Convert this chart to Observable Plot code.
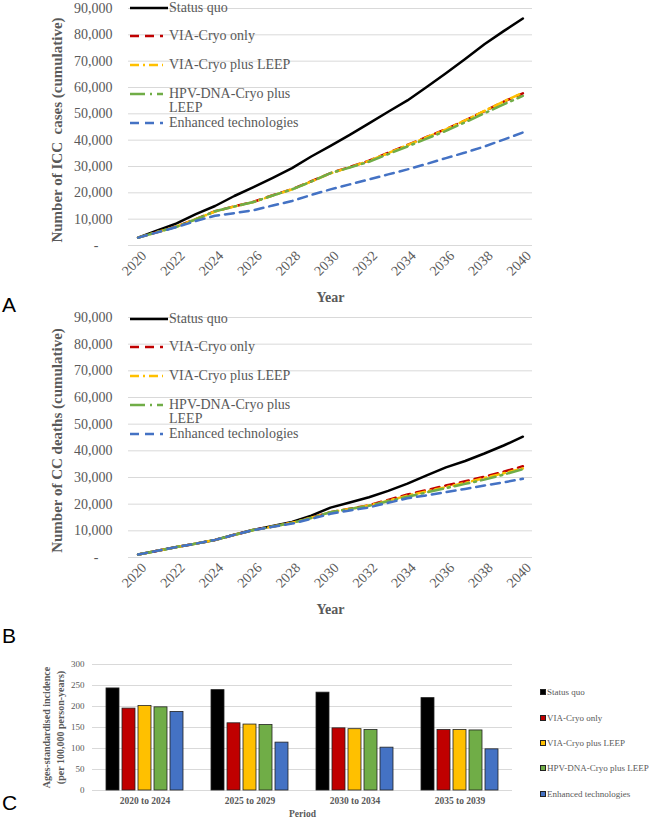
<!DOCTYPE html>
<html><head><meta charset="utf-8">
<script src="https://cdn.jsdelivr.net/npm/d3@7"></script>
<script src="https://cdn.jsdelivr.net/npm/@observablehq/plot@0.6"></script>
<style>
body{margin:0;background:#fff;}
#wrap{position:relative;width:652px;height:820px;overflow:hidden;font-family:"Liberation Serif",serif;color:#595959;background:#fff;}
.panel{position:absolute;left:0;}
.letter{position:absolute;left:2px;font-family:"Liberation Sans","Noto Sans",sans-serif;font-size:21px;line-height:21px;color:#000;}
.leg{position:absolute;font-family:"Liberation Serif",serif;font-size:14px;line-height:14px;white-space:nowrap;color:#595959;}
.legc{position:absolute;font-family:"Liberation Serif",serif;font-size:9px;line-height:10px;white-space:nowrap;color:#595959;}
.sw{position:absolute;width:6px;height:6px;box-sizing:border-box;border:1px solid #222;}
</style></head><body><div id="wrap"></div>
<script>
// ---------- data ----------
const years = [2020,2021,2022,2023,2024,2025,2026,2027,2028,2029,2030,2031,2032,2033,2034,2035,2036,2037,2038,2039,2040];
const yearTicks = [2020,2022,2024,2026,2028,2030,2032,2034,2036,2038,2040];
const countTicks = [0,10000,20000,30000,40000,50000,60000,70000,80000,90000];

const scenarios = ["Status quo","VIA-Cryo only","VIA-Cryo plus LEEP","HPV-DNA-Cryo plus LEEP","Enhanced technologies"];
const scenarioColors = ["#000000","#C00000","#FFC000","#70AD47","#4472C4"];
const scenarioDash = [null,"9,6","9,4,2,4","15,5,2,5","9,6"];
const legendLabelsLine = ["Status quo","VIA-Cryo only","VIA-Cryo plus LEEP","HPV-DNA-Cryo plus\nLEEP","Enhanced technologies"];

// Panel A: cumulative ICC cases
const casesStatusQuo = [3000,5700,8400,11900,15000,18800,22200,25700,29400,33800,37800,42000,46400,50800,55100,60200,65400,70800,76400,81400,86200];
const casesViaCryo   = [3000,5100,7200,10000,13000,14900,16600,19100,21400,24400,27500,29800,32200,35200,38200,41200,44200,47500,51000,54600,57800];
const casesViaLeep   = [3000,5100,7200,10000,12900,14800,16500,19000,21300,24300,27400,29700,32100,35100,38100,41100,44100,47500,51100,54700,58000];
const casesHpv       = [3000,5100,7100,9900,13000,14800,16500,19000,21300,24300,27500,29600,31800,34700,37600,40600,43500,46800,50200,53600,56800];
const casesEnhanced  = [3000,5000,7000,9300,11300,12300,13400,15200,16900,19200,21300,23200,25100,27000,28900,31000,33200,35300,37600,40200,42900];

// Panel B: cumulative CC deaths
const deathsStatusQuo = [1100,2500,3900,5200,6600,8500,10400,11800,13300,15700,18700,20600,22600,25000,27700,30800,33800,36200,39000,42000,45300];
const deathsViaCryo   = [1100,2500,3900,5200,6600,8500,10300,11600,13000,14900,17000,18300,19600,21600,23600,25300,27000,28600,30300,32200,34200];
const deathsViaLeep   = [1100,2500,3900,5200,6600,8500,10300,11600,13000,14900,17000,18200,19500,21300,23200,24800,26400,28000,29800,31600,33400];
const deathsHpv       = [1100,2500,3900,5200,6600,8500,10300,11600,13000,14800,17000,18200,19400,21100,22800,24400,26000,27600,29200,31100,33100];
const deathsEnhanced  = [1100,2500,3900,5200,6600,8500,10300,11500,12700,14500,16400,17600,18800,20500,22200,23300,24500,25700,27000,28200,29500];

// Panel C: age-standardised incidence
const periods = ["2020 to 2024","2025 to 2029","2030 to 2034","2035 to 2039"];
const incStatusQuo = [243,239,233,220];
const incViaCryo   = [195,160,148,144];
const incViaLeep   = [201,157,146,144];
const incHpv       = [198,156,144,143];
const incEnhanced  = [187,114,102,98];
const incTicks = [0,50,100,150,200,250,300];

// ---------- helpers ----------
const wrap = document.getElementById("wrap");
const grey = "#595959";
const fmtCount = d => d === 0 ? "-\u2007\u2007" : d3.format(",")(d);

function linePanel(seriesList, yLabel, h){
  const lineMarks = seriesList.map((vals, i) => Plot.line(years, {
    x: years, y: vals, stroke: scenarioColors[i], strokeWidth: 2.5,
    strokeDasharray: scenarioDash[i] || undefined, strokeLinejoin: "round"
  }));
  return Plot.plot({
    width: 545, height: h,
    marginTop: 8, marginRight: 13, marginBottom: 55, marginLeft: 128,
    style: {fontFamily: "'Liberation Serif', serif", fontSize: "14px", color: grey, background: "transparent", overflow: "visible"},
    x: {domain: [2019.5, 2040.5]},
    y: {domain: [0, 90000]},
    marks: [
      Plot.gridY(countTicks, {stroke: "#d9d9d9", strokeOpacity: 1, strokeWidth: 1}),
      Plot.axisY(countTicks, {tickSize: 0, tickPadding: 16, tickFormat: fmtCount, label: null, fontSize: 14}),
      Plot.axisX(yearTicks, {tickSize: 0, tickPadding: 8, tickRotate: -45, dx: 6, tickFormat: d => String(d), label: null, fontSize: 14}),
      ...lineMarks,
      Plot.text([yLabel], {frameAnchor: "left", textAnchor: "middle", lineAnchor: "middle", dx: -71, dy: 3, rotate: -90, fontWeight: "bold", fontSize: 15, fill: grey}),
      Plot.text(["Year"], {frameAnchor: "bottom", lineAnchor: "middle", dy: 52, fontWeight: "bold", fontSize: 14, fill: grey})
    ]
  });
}

function addLineLegend(offsetTop){
  const centers = [8, 36, 65, 94, 123];
  legendLabelsLine.forEach((lab, i) => {
    const c = centers[i] + offsetTop;
    const svgNS = "http://www.w3.org/2000/svg";
    const s = document.createElementNS(svgNS, "svg");
    s.setAttribute("width", 38); s.setAttribute("height", 6);
    s.style.position = "absolute"; s.style.left = "130px"; s.style.top = (c - 3) + "px";
    const l = document.createElementNS(svgNS, "line");
    l.setAttribute("x1", 0); l.setAttribute("x2", i === 0 ? 38 : 33);
    l.setAttribute("y1", 3); l.setAttribute("y2", 3);
    l.setAttribute("stroke", scenarioColors[i]); l.setAttribute("stroke-width", 2.5);
    if (scenarioDash[i]) l.setAttribute("stroke-dasharray", scenarioDash[i]);
    s.appendChild(l);
    wrap.appendChild(s);
    const d = document.createElement("div");
    d.className = "leg";
    d.style.left = "169px"; d.style.top = (c - 7) + "px";
    d.innerHTML = lab.split("\n").join("<br>");
    wrap.appendChild(d);
  });
}

// ---------- Panel A ----------
const pA = linePanel([casesStatusQuo, casesViaCryo, casesViaLeep, casesHpv, casesEnhanced], "Number of ICC\u00a0 cases (cumulative)", 300);
pA.classList.add("panel"); pA.style.top = "0px";
wrap.appendChild(pA);
addLineLegend(0);

// ---------- Panel B ----------
const pB = linePanel([deathsStatusQuo, deathsViaCryo, deathsViaLeep, deathsHpv, deathsEnhanced], "Number of CC deaths (cumulative)", 303);
pB.classList.add("panel"); pB.style.top = "309px";
wrap.appendChild(pB);
addLineLegend(311);

// ---------- Panel C ----------
const incSeries = [incStatusQuo, incViaCryo, incViaLeep, incHpv, incEnhanced];
const barData = [];
periods.forEach((p, j) => scenarios.forEach((s, i) => barData.push({period: p, scenario: s, value: incSeries[i][j]})));

const pC = Plot.plot({
  width: 530, height: 165,
  marginTop: 9, marginRight: 17, marginBottom: 30, marginLeft: 91,
  style: {fontFamily: "'Liberation Serif', serif", fontSize: "9px", color: grey, background: "transparent", overflow: "visible"},
  fx: {domain: periods, padding: 0},
  x: {domain: scenarios, paddingInner: 0.2, paddingOuter: 0.8, axis: null},
  y: {domain: [0, 300]},
  color: {domain: scenarios, range: scenarioColors},
  marks: [
    Plot.gridY(incTicks, {stroke: "#d9d9d9", strokeOpacity: 1, strokeWidth: 1}),
    Plot.axisY(incTicks, {tickSize: 0, tickPadding: 8, fontSize: 9, label: null}),
    Plot.axisFx({anchor: "bottom", tickSize: 0, tickPadding: 7, fontSize: 9.5, fontWeight: "bold", label: null}),
    Plot.barY(barData, {fx: "period", x: "scenario", y: "value", fill: "scenario", stroke: "#222", strokeWidth: 0.8}),
    Plot.text(["Ages-standardised incidence\n(per 100,000 person-years)"], {facet: "super", frameAnchor: "left", textAnchor: "middle", lineAnchor: "middle", dx: -40, rotate: -90, fontWeight: "bold", fontSize: 10, lineHeight: 1.35, fill: grey}),
    Plot.text(["Period"], {facet: "super", frameAnchor: "bottom", lineAnchor: "middle", dy: 23, fontWeight: "bold", fontSize: 9.5, fill: grey})
  ]
});
pC.classList.add("panel"); pC.style.top = "655px";
wrap.appendChild(pC);

// legend C
scenarios.forEach((s, i) => {
  const c = 692.3 + i * 25.35;
  const sw = document.createElement("div");
  sw.className = "sw"; sw.style.left = "540px"; sw.style.top = (c - 3) + "px";
  sw.style.background = scenarioColors[i];
  wrap.appendChild(sw);
  const d = document.createElement("div");
  d.className = "legc"; d.style.left = "547px"; d.style.top = (c - 5) + "px";
  d.textContent = s;
  wrap.appendChild(d);
});

// panel letters
[["A", 294], ["B", 625], ["C", 792]].forEach(([t, top]) => {
  const d = document.createElement("div");
  d.className = "letter"; d.style.top = top + "px"; d.textContent = t;
  wrap.appendChild(d);
});
</script>
</body></html>
